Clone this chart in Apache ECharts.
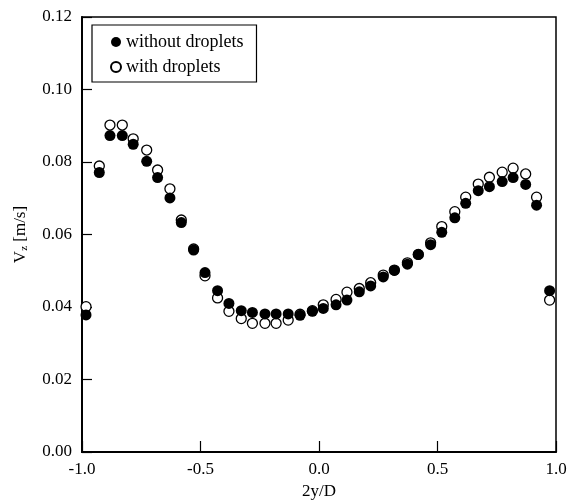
<!DOCTYPE html>
<html>
<head>
<meta charset="utf-8">
<script src="https://cdn.jsdelivr.net/npm/echarts@6/dist/echarts.min.js"></script>
<style>
  html, body { margin: 0; padding: 0; background: #fff; }
  #chart { width: 570px; height: 500px; }
</style>
</head>
<body>
<div id="chart"></div>
<script>
// Radial positions 2y/D of the measurement points
const positions = [-0.983, -0.927, -0.882, -0.830, -0.784, -0.727, -0.681, -0.629, -0.581, -0.529,
  -0.481, -0.428, -0.380, -0.328, -0.281, -0.228, -0.181, -0.130, -0.080, -0.028,
  0.018, 0.072, 0.118, 0.170, 0.218, 0.271, 0.318, 0.373, 0.419, 0.471,
  0.518, 0.573, 0.619, 0.672, 0.719, 0.773, 0.819, 0.872, 0.918, 0.973];

// Axial velocity Vz [m/s], single-phase flow
const vzWithout = [0.0378, 0.0771, 0.0873, 0.0873, 0.0849, 0.0802, 0.0757, 0.0701, 0.0633, 0.0557,
  0.0495, 0.0445, 0.0410, 0.0390, 0.0385, 0.0381, 0.0381, 0.0381, 0.0377, 0.0388,
  0.0396, 0.0406, 0.0419, 0.0442, 0.0458, 0.0483, 0.0501, 0.0518, 0.0545, 0.0572,
  0.0606, 0.0646, 0.0686, 0.0721, 0.0732, 0.0746, 0.0757, 0.0738, 0.0681, 0.0445];

// Axial velocity Vz [m/s], flow laden with droplets
const vzWith = [0.0401, 0.0789, 0.0902, 0.0902, 0.0864, 0.0833, 0.0778, 0.0726, 0.0640, 0.0560,
  0.0486, 0.0425, 0.0388, 0.0368, 0.0355, 0.0355, 0.0355, 0.0364, 0.0380, 0.0390,
  0.0406, 0.0421, 0.0441, 0.0451, 0.0467, 0.0488, 0.0502, 0.0522, 0.0545, 0.0577,
  0.0622, 0.0663, 0.0703, 0.0739, 0.0758, 0.0772, 0.0783, 0.0767, 0.0703, 0.0419];

const seriesNames = ['without droplets', 'with droplets'];
const xTicks = { min: -1, max: 1, interval: 0.5 };
const yTicks = { min: 0, max: 0.12, interval: 0.02 };

const FONT = '"Liberation Serif", "Times New Roman", serif';

const pairs = (xs, ys) => xs.map((x, i) => [x, ys[i]]);

const chart = echarts.init(document.getElementById('chart'), null, { renderer: 'canvas' });
chart.setOption({
  backgroundColor: '#fff',
  animation: false,
  textStyle: { fontFamily: FONT, color: '#000' },
  grid: {
    left: 82, right: 14, top: 17, bottom: 48,
    outerBoundsMode: 'none',
    containLabel: false,
    show: true, borderColor: '#000', borderWidth: 1.5, backgroundColor: 'transparent'
  },
  legend: {
    data: seriesNames,
    orient: 'vertical',
    left: 92, top: 25,
    padding: [8, 13, 6, 18],
    itemGap: 7,
    itemWidth: 10, itemHeight: 10,
    itemTextGap: 13,
    borderColor: '#000', borderWidth: 1.2,
    backgroundColor: '#fff',
    textStyle: { fontFamily: FONT, fontSize: 18, color: '#000' }
  },
  xAxis: {
    type: 'value',
    min: xTicks.min, max: xTicks.max, interval: xTicks.interval,
    name: '2y/D',
    nameLocation: 'middle',
    nameGap: 31,
    nameTextStyle: { fontFamily: FONT, fontSize: 17, color: '#000' },
    axisLine: { show: true, onZero: false, lineStyle: { color: '#000', width: 2 } },
    axisTick: { show: true, inside: true, length: 11, lineStyle: { color: '#000', width: 1.2 } },
    axisLabel: {
      fontFamily: FONT, fontSize: 17, color: '#000', margin: 9,
      formatter: v => v.toFixed(1)
    },
    splitLine: { show: false }
  },
  yAxis: {
    type: 'value',
    min: yTicks.min, max: yTicks.max, interval: yTicks.interval,
    name: '{v|V}{s|z}{v| [m/s]}',
    nameLocation: 'middle',
    nameGap: 52,
    nameTextStyle: {
      fontFamily: FONT, fontSize: 17, color: '#000',
      rich: {
        v: { fontFamily: FONT, fontSize: 17, color: '#000', lineHeight: 18 },
        s: { fontFamily: FONT, fontSize: 11, color: '#000', verticalAlign: 'bottom', lineHeight: 11 }
      }
    },
    axisLine: { show: true, onZero: false, lineStyle: { color: '#000', width: 2 } },
    axisTick: { show: true, inside: true, length: 10, lineStyle: { color: '#000', width: 1.2 } },
    axisLabel: {
      fontFamily: FONT, fontSize: 17, color: '#000', margin: 10,
      formatter: v => v.toFixed(2)
    },
    splitLine: { show: false }
  },
  series: [
    {
      name: seriesNames[1],
      type: 'scatter',
      z: 2,
      symbol: 'circle',
      symbolSize: 10,
      itemStyle: { color: '#fff', borderColor: '#000', borderWidth: 1.3, opacity: 1 },
      data: pairs(positions, vzWith)
    },
    {
      name: seriesNames[0],
      type: 'scatter',
      z: 3,
      symbol: 'circle',
      symbolSize: 11,
      itemStyle: { color: '#000', borderColor: '#000', borderWidth: 0, opacity: 1 },
      data: pairs(positions, vzWithout)
    }
  ]
});
</script>
</body>
</html>
